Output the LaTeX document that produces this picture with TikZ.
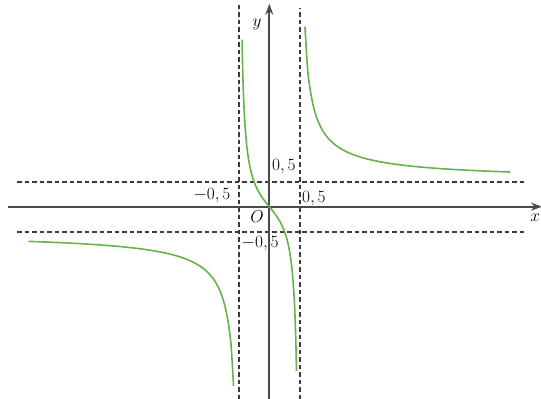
\documentclass[tikz,border=0pt]{standalone}
\usepackage{amsmath}
\usepackage{xcolor}
\usepackage{tikz}
\usetikzlibrary{arrows.meta}
\definecolor{axisgray}{HTML}{4A4A4A}
\definecolor{asymgray}{HTML}{3A3A3A}
\definecolor{curvegreen}{HTML}{66B34C}

\begin{document}
\begin{tikzpicture}[
  x=61pt,y=50pt,
  font=\fontsize{16}{19}\selectfont,
  axis/.style={axisgray,line width=2pt,-{Stealth[length=11pt,width=8pt]}},
  asym/.style={asymgray,line width=1.7pt,dash pattern=on 4.5pt off 3pt},
  branch/.style={curvegreen,line width=1.6pt,smooth,samples=80}
]
\useasboundingbox (-269.3pt,-192.3pt) rectangle (271.7pt,206.7pt);
% axes
\coordinate (xl) at (-4.28,0);
\coordinate (xr) at (4.47,0);
\coordinate (yb) at (0,-3.85);
\coordinate (yt) at (0,4.06);
% asymptotes
\coordinate (al1) at (-0.5,-3.85);
\coordinate (al2) at (-0.5,4.04);
\coordinate (ar1) at (0.5,-3.85);
\coordinate (ar2) at (0.5,3.97);
\coordinate (hu1) at (-4.13,0.5);
\coordinate (hu2) at (4.22,0.5);
\coordinate (hd1) at (-4.13,-0.5);
\coordinate (hd2) at (4.22,-0.5);
\draw[asym] (al1) -- (al2);
\draw[asym] (ar1) -- (ar2);
\draw[asym] (hu1) -- (hu2);
\draw[asym] (hd1) -- (hd2);
\draw[axis] (xl) -- (xr);
\draw[axis] (yb) -- (yt);
% graph
\draw[branch,domain=-0.447:0.447] plot (\x,{-0.375*\x/(0.25-\x*\x)});
\draw[branch,domain=0.585:3.95] plot (\x,{0.5+0.49*pow(\x-0.5,-0.75)});
\draw[branch,domain=-3.95:-0.585] plot (\x,{-0.5-0.49*pow(-\x-0.5,-0.75)});
% labels
\node (xlab) at (4.36,-0.23) {$x$};
\node (ylab) at (-0.2,3.65) {$y$};
\node (orig) at (-0.2,-0.19) {$O$};
\node (ytop) at (0.24,0.81) {$0,5$};
\node (ybot) at (-0.15,-0.73) {$-0,5$};
\node (xleft) at (-0.94,0.23) {$-0,5$};
\node (xright) at (0.73,0.17) {$0,5$};
\end{tikzpicture}
\end{document}
